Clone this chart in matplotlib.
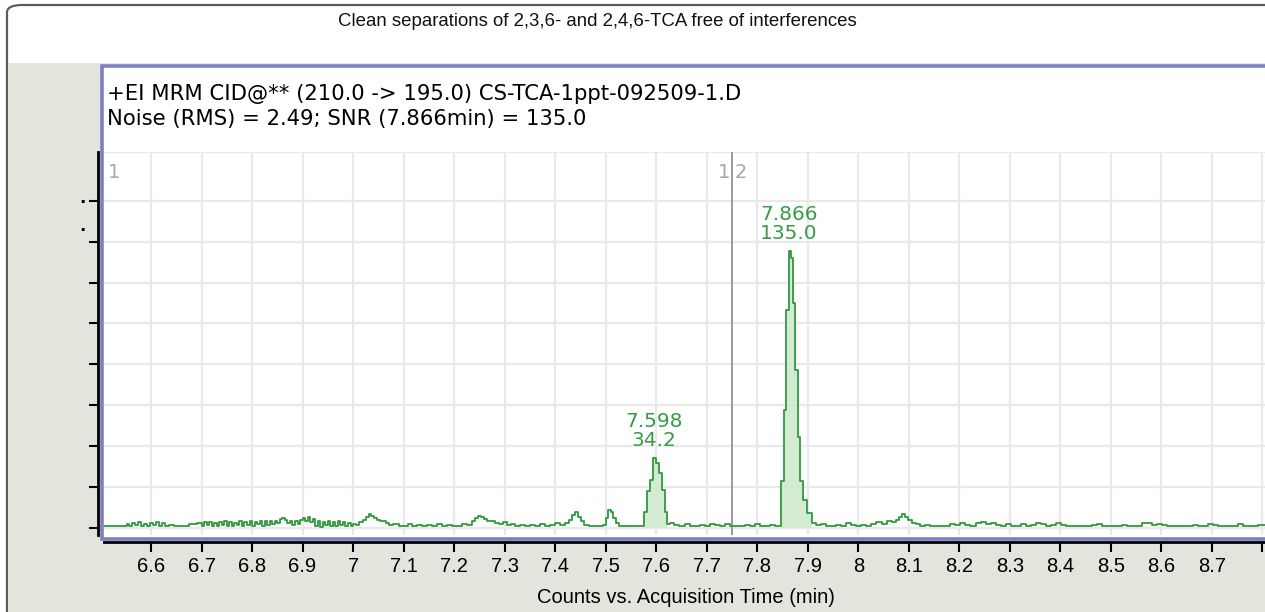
import matplotlib.pyplot as plt
from matplotlib.patches import FancyBboxPatch, Rectangle

# chromatogram trace (min, counts)
time_min = [
    6.507, 6.552, 6.557, 6.562, 6.568, 6.574, 6.580, 6.586, 6.592, 6.598,
    6.604, 6.610, 6.616, 6.622, 6.628, 6.636, 6.646, 6.656, 6.666, 6.676,
    6.684, 6.692,
    6.700, 6.705, 6.710, 6.715, 6.720, 6.725, 6.730, 6.735, 6.740, 6.745,
    6.750, 6.755, 6.760, 6.765, 6.770, 6.775, 6.780, 6.785, 6.790, 6.795,
    6.800, 6.805, 6.810, 6.815, 6.820, 6.825, 6.830, 6.835, 6.840, 6.845,
    6.850,
    6.855, 6.860, 6.865, 6.870, 6.875, 6.880, 6.885, 6.890, 6.895, 6.900,
    6.905, 6.910, 6.915, 6.920, 6.925, 6.930, 6.935, 6.940, 6.945, 6.950,
    6.955, 6.960, 6.965, 6.970, 6.975, 6.980, 6.985, 6.990, 6.995, 7.000,
    7.005, 7.012, 7.020, 7.026, 7.031, 7.036, 7.042, 7.048, 7.054, 7.060,
    7.066, 7.072, 7.080, 7.090, 7.100, 7.108, 7.116, 7.126, 7.136, 7.146,
    7.156, 7.166, 7.176, 7.186, 7.196, 7.206, 7.216, 7.226, 7.236, 7.242,
    7.248, 7.254, 7.260, 7.266, 7.272, 7.280, 7.288, 7.296, 7.304, 7.312,
    7.320, 7.330, 7.340, 7.350, 7.360, 7.370, 7.380, 7.390, 7.400, 7.410,
    7.420, 7.428, 7.434, 7.440, 7.446, 7.452, 7.458, 7.466, 7.476, 7.486,
    7.494, 7.500, 7.505, 7.510, 7.515, 7.520, 7.526, 7.534, 7.544, 7.554,
    7.564, 7.570,
    7.576, 7.582, 7.588, 7.594, 7.600, 7.606, 7.612, 7.617, 7.622,
    7.628, 7.636, 7.646, 7.656, 7.666, 7.676, 7.686, 7.696, 7.706, 7.716,
    7.726, 7.736, 7.746, 7.756, 7.766, 7.776, 7.786, 7.796, 7.806, 7.816,
    7.826, 7.836, 7.842,
    7.847, 7.852, 7.857, 7.862, 7.866, 7.871, 7.875, 7.880, 7.885, 7.890,
    7.898, 7.908,
    7.916, 7.926, 7.936, 7.946, 7.956, 7.966, 7.976, 7.986, 7.996, 8.006,
    8.016, 8.026, 8.036, 8.046, 8.056, 8.066, 8.074, 8.080, 8.086, 8.092,
    8.098, 8.106, 8.114, 8.122, 8.132, 8.142, 8.152, 8.162, 8.172, 8.182,
    8.192, 8.202, 8.212, 8.222, 8.232, 8.242, 8.252, 8.262, 8.272, 8.282,
    8.292, 8.302, 8.312, 8.322, 8.332, 8.342, 8.352, 8.362, 8.372, 8.382,
    8.392, 8.402, 8.412, 8.422, 8.432, 8.442, 8.452, 8.462, 8.472, 8.482,
    8.492, 8.502, 8.512, 8.522, 8.532, 8.542, 8.552, 8.562, 8.572, 8.582,
    8.592, 8.602, 8.612, 8.622, 8.632, 8.642, 8.652, 8.662, 8.672, 8.682,
    8.692, 8.702, 8.712, 8.722, 8.732, 8.742, 8.752, 8.762, 8.772, 8.782,
    8.792, 8.805,
]
counts = [
    2, 5, 3, 6, 4, 7, 3, 5, 2, 6,
    4, 7, 3, 6, 2, 4, 2, 3, 2, 5,
    5, 6,
    3, 7, 4, 7, 2, 6, 3, 7, 4, 8,
    3, 7, 2, 6, 4, 8, 3, 7, 4, 9,
    3, 7, 5, 9, 3, 8, 4, 9, 5, 8,
    6,
    11, 12, 10, 6, 9, 4, 8, 5, 10, 12,
    9, 13, 7, 11, 3, 8, 1, 7, 4, 8,
    2, 7, 3, 8, 4, 7, 2, 6, 3, 5,
    4, 7, 10, 14, 17, 15, 12, 10, 8, 9,
    6, 4, 5, 3, 3, 5, 3, 4, 2, 4,
    3, 5, 3, 4, 2, 3, 5, 4, 8, 12,
    15, 14, 11, 9, 8, 6, 5, 7, 4, 5,
    3, 4, 2, 4, 3, 5, 3, 4, 6, 4,
    6, 10, 16, 20, 14, 8, 4, 3, 2, 2,
    4, 12, 22, 19, 12, 6, 3, 2, 2, 2,
    2, 3,
    20, 45, 59, 85, 80, 67, 47, 20, 5,
    6, 4, 3, 5, 3, 2, 4, 2, 5, 4,
    3, 5, 2, 3, 2, 4, 2, 5, 3, 2,
    4, 2, 3,
    58, 144, 267, 338, 330, 275, 193, 111, 58, 34,
    18, 6,
    4, 5, 3, 2, 4, 3, 6, 4, 2, 4,
    3, 5, 7, 5, 8, 7, 10, 13, 17, 14,
    10, 6, 5, 3, 4, 3, 2, 3, 2, 5,
    4, 6, 4, 3, 6, 7, 5, 6, 4, 3,
    5, 2, 3, 5, 3, 4, 6, 5, 3, 4,
    6, 4, 3, 2, 3, 2, 3, 4, 5, 3,
    2, 3, 2, 4, 2, 2, 3, 6, 6, 4,
    5, 4, 2, 3, 2, 2, 3, 4, 2, 2,
    5, 4, 3, 2, 2, 3, 5, 3, 2, 2,
    4, 4,
]

# integrated peaks
peak_start = [7.574, 7.846]
peak_end = [7.622, 7.910]
peak_rt = ["7.598", "7.866"]
peak_snr = ["34.2", "135.0"]
peak_apex = [(7.596, 85), (7.863, 338)]

x_ticks = [6.6, 6.7, 6.8, 6.9, 7.0, 7.1, 7.2, 7.3, 7.4, 7.5, 7.6, 7.7,
           7.8, 7.9, 8.0, 8.1, 8.2, 8.3, 8.4, 8.5, 8.6, 8.7, 8.8]
x_labels = ["6.6", "6.7", "6.8", "6.9", "7", "7.1", "7.2", "7.3", "7.4",
            "7.5", "7.6", "7.7", "7.8", "7.9", "8", "8.1", "8.2", "8.3",
            "8.4", "8.5", "8.6", "8.7", ""]
y_ticks = [0, 50, 100, 150, 200, 250, 300, 350, 400]
cursor_time = 7.75

W, H = 1265, 612
sans = ["Liberation Sans", "DejaVu Sans"]
wide = ["DejaVu Sans"]
green = "#2f9a3d"


def fx(px):
    return px / W


def fy(py):
    return 1 - py / H


fig = plt.figure(figsize=(W / 100, H / 100), dpi=100)
fig.patch.set_facecolor("white")

# outer rounded frame, grey lower part, blue-bordered plot panel
fig.patches.append(FancyBboxPatch((fx(7), fy(640)), fx(1300), fy(5) - fy(640),
                                  boxstyle="round,pad=0,rounding_size=0.012",
                                  transform=fig.transFigure, facecolor="white",
                                  edgecolor="#5c5c5c", lw=1.6, zorder=0))
fig.patches.append(Rectangle((fx(8), fy(640)), fx(1300), fy(63) - fy(640),
                             transform=fig.transFigure, facecolor="#e4e3dc",
                             edgecolor="none", zorder=0.5))
fig.patches.append(Rectangle((fx(101.5), fy(538.5)), fx(1300), fy(65.5) - fy(538.5),
                             transform=fig.transFigure, facecolor="white",
                             edgecolor="#7b80c2", lw=2.6, zorder=0.6))

fig.text(fx(597), fy(21), "Clean separations of 2,3,6- and 2,4,6-TCA free of interferences",
         ha="center", va="center", fontsize=13.4, family=sans, color="#111111")
fig.text(fx(107), fy(94), "+EI MRM CID@** (210.0 -> 195.0) CS-TCA-1ppt-092509-1.D",
         ha="left", va="center", fontsize=15.2, family=wide, color="black")
fig.text(fx(107), fy(119), "Noise (RMS) = 2.49; SNR (7.866min) = 135.0",
         ha="left", va="center", fontsize=15.2, family=wide, color="black")
fig.text(fx(82), fy(203), ".", ha="center", va="baseline", fontsize=12,
         fontweight="bold", color="black")
fig.text(fx(82), fy(231), ".", ha="center", va="baseline", fontsize=12,
         fontweight="bold", color="black")

ax = fig.add_axes([fx(104), fy(535), fx(1265) - fx(104), fy(152) - fy(535)])
ax.set_zorder(5)
ax.set_facecolor("none")
ax.set_xlim(6.507, 8.805)
ax.set_ylim(-8.5, 459.5)

ax.plot(time_min, counts, drawstyle="steps-post", color=green, lw=1.3, zorder=3)
for start, end in zip(peak_start, peak_end):
    mask = [start <= t <= end for t in time_min]
    ax.fill_between(time_min, 0, counts, where=mask, step="post",
                    color="#cfe9cf", alpha=0.9, lw=0, zorder=2)

for (t, c), rt, snr in zip(peak_apex, peak_rt, peak_snr):
    ax.annotate(rt + "\n" + snr, (t, c), xytext=(0, 6), textcoords="offset points",
                ha="center", va="bottom", fontsize=14.5, family=wide,
                color="#3a9a47", linespacing=1.0)

ax.axvline(cursor_time, color="#9a9a9a", lw=1.4, zorder=2.5)
ax.text(6.515, 435, "1", color="#a8a8a8", fontsize=14, family=wide, va="center")
ax.text(cursor_time - 0.004, 435, "1", color="#a8a8a8", fontsize=14,
        family=wide, va="center", ha="right")
ax.text(cursor_time + 0.006, 435, "2", color="#a8a8a8", fontsize=14,
        family=wide, va="center", ha="left")

for side in ["top", "right"]:
    ax.spines[side].set_visible(False)
ax.spines["left"].set_position(("outward", 4))
ax.spines["bottom"].set_position(("outward", 5))
ax.spines["left"].set_linewidth(2)
ax.spines["bottom"].set_linewidth(2)
ax.tick_params(axis="x", direction="out", length=7, width=1.5, pad=4,
               colors="black", labelsize=14.5, labelfontfamily="Liberation Sans")
ax.tick_params(axis="y", direction="out", length=6.5, width=1.5)

ax.set_xticks(x_ticks)
ax.set_xticklabels(x_labels)
ax.set_yticks(y_ticks)
ax.set_yticklabels([])
ax.grid(True, color="#e9e9e9", lw=1.6, zorder=0)
ax.set_axisbelow(True)
ax.axhline(459.5, color="#e9e9e9", lw=1.6, zorder=0)

ax.set_xlabel("Counts vs. Acquisition Time (min)", family=sans, fontsize=14.5)
ax.xaxis.label.set_va("center")
ax.xaxis.set_label_coords((fx(686) - fx(104)) / (fx(1265) - fx(104)), -0.162)

fig.savefig("out.png", dpi=100)
